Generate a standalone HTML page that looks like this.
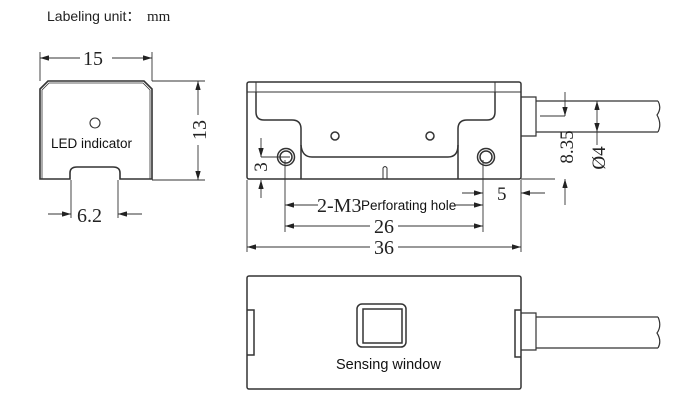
<!DOCTYPE html><html><head><style>body{margin:0;background:#fff}svg{display:block}</style></head><body>
<svg width="700" height="405" viewBox="0 0 700 405" xmlns="http://www.w3.org/2000/svg" font-family="Liberation Serif,serif">
<defs><marker id="a" viewBox="0 0 10 6" refX="10" refY="3" markerWidth="10" markerHeight="6" orient="auto-start-reverse"><path d="M0,0L10,3L0,6z" fill="#222"/></marker></defs>
<text x="47" y="21" font-family="Liberation Sans,sans-serif" font-size="14" fill="#222">Labeling unit：</text>
<text x="147" y="21" font-size="15" fill="#222">mm</text>
<g fill="none" stroke="#333" stroke-width="1.6">
<path d="M40,179 L40,89 L48,81 L144,81 L152,89 L152,179 L120,179 L120,173 Q120,167 113,167 L77,167 Q70,167 70,173 L70,179 Z"/>
<path d="M42,179 L42,90 L49,83 L143,83 L150,90 L150,179" stroke-width="0.8"/>
<circle cx="95" cy="123" r="5" stroke-width="1.1"/>
</g>
<g fill="none" stroke="#333" stroke-width="0.9">
<path d="M40,52V81M152,52V81M152,81H205M152,180H205M71,180V218M118,180V218"/>
<line x1="80" y1="58" x2="40" y2="58" marker-end="url(#a)"/><line x1="112" y1="58" x2="152" y2="58" marker-end="url(#a)"/>
<line x1="198" y1="115" x2="198" y2="81" marker-end="url(#a)"/><line x1="198" y1="145" x2="198" y2="180" marker-end="url(#a)"/>
<line x1="48" y1="214" x2="71" y2="214" marker-end="url(#a)"/><line x1="142" y1="214" x2="118" y2="214" marker-end="url(#a)"/>
</g>
<text x="83" y="65" font-size="20" fill="#222">15</text>
<text transform="translate(206,130) rotate(-90)" font-size="20" fill="#222" text-anchor="middle">13</text>
<text x="77" y="222" font-size="20" fill="#222">6.2</text>
<text x="51" y="148" font-family="Liberation Sans,sans-serif" font-size="13.5" fill="#111">LED indicator</text>
<g fill="none" stroke="#333" stroke-width="1.5">
<rect x="247" y="82" width="274" height="97" rx="2"/>
<path d="M256,82V92H495V82M247,92H521" stroke-width="1"/>
<path d="M256,92V112Q256,120 264,120H292Q301,120 301,129V179M495,92V112Q495,120 487,120H467Q458,120 458,129V179"/>
<path d="M301,145Q302,157 312,157H448Q458,157 458,145"/>
<circle cx="335" cy="136" r="4"/><circle cx="430" cy="136" r="4"/>
<circle cx="286" cy="157" r="8.5"/><circle cx="286" cy="157" r="6"/>
<circle cx="486" cy="157" r="8.5"/><circle cx="486" cy="157" r="6"/>
<path d="M383,179V168Q385,165 387,168V179" stroke-width="1"/>
<path d="M521,97H536V136H521M536,101H658M536,132H658M658,101Q662,108 657,115Q662,124 658,132" stroke-width="1.2"/>
</g>
<g fill="none" stroke="#333" stroke-width="0.9">
<path d="M247,180V252M521,180V252M285,160V232M483,160V232M261,157H290M521,179H555M540,116H565M525,193H545"/>
<line x1="261" y1="138" x2="261" y2="157" marker-end="url(#a)"/><line x1="261" y1="198" x2="261" y2="180" marker-end="url(#a)"/>
<line x1="565" y1="92" x2="565" y2="116" marker-end="url(#a)"/><line x1="565" y1="205" x2="565" y2="179" marker-end="url(#a)"/>
<line x1="597" y1="118" x2="597" y2="101" marker-end="url(#a)"/><line x1="597" y1="118" x2="597" y2="132" marker-end="url(#a)"/>
<line x1="597" y1="132" x2="597" y2="145"/>
<line x1="462" y1="193" x2="483" y2="193" marker-end="url(#a)"/><line x1="545" y1="193" x2="521" y2="193" marker-end="url(#a)"/>
<line x1="318" y1="205" x2="285" y2="205" marker-end="url(#a)"/><line x1="455" y1="205" x2="483" y2="205" marker-end="url(#a)"/>
<line x1="370" y1="226" x2="285" y2="226" marker-end="url(#a)"/><line x1="398" y1="226" x2="483" y2="226" marker-end="url(#a)"/>
<line x1="370" y1="247" x2="247" y2="247" marker-end="url(#a)"/><line x1="398" y1="247" x2="521" y2="247" marker-end="url(#a)"/>
</g>
<text transform="translate(267,167) rotate(-90)" font-size="19" fill="#222" text-anchor="middle">3</text>
<text transform="translate(573,147) rotate(-90)" font-size="19" fill="#222" text-anchor="middle">8.35</text>
<text transform="translate(605,158) rotate(-90)" font-size="19" fill="#222" text-anchor="middle">Ø4</text>
<text x="497" y="200" font-size="19" fill="#222">5</text>
<text x="317" y="212" font-size="20" fill="#222">2-M3</text>
<text x="361" y="210" font-family="Liberation Sans,sans-serif" font-size="13.5" fill="#111">Perforating hole</text>
<text x="384" y="233" font-size="20" fill="#222" text-anchor="middle">26</text>
<text x="384" y="254" font-size="20" fill="#222" text-anchor="middle">36</text>
<g fill="none" stroke="#333" stroke-width="1.5">
<rect x="247" y="276" width="274" height="113" rx="2"/>
<path d="M247,310H254V355H247M521,310H515V357H521"/>
<rect x="357" y="304" width="49" height="43" rx="5"/>
<rect x="363" y="309" width="39" height="34"/>
<path d="M521,313H536V350H521M536,317H658M536,348H658M658,317Q662,326 657,333Q662,341 658,348" stroke-width="1.2"/>
</g>
<text x="336" y="369" font-family="Liberation Sans,sans-serif" font-size="14.5" fill="#111">Sensing window</text>
</svg></body></html>
